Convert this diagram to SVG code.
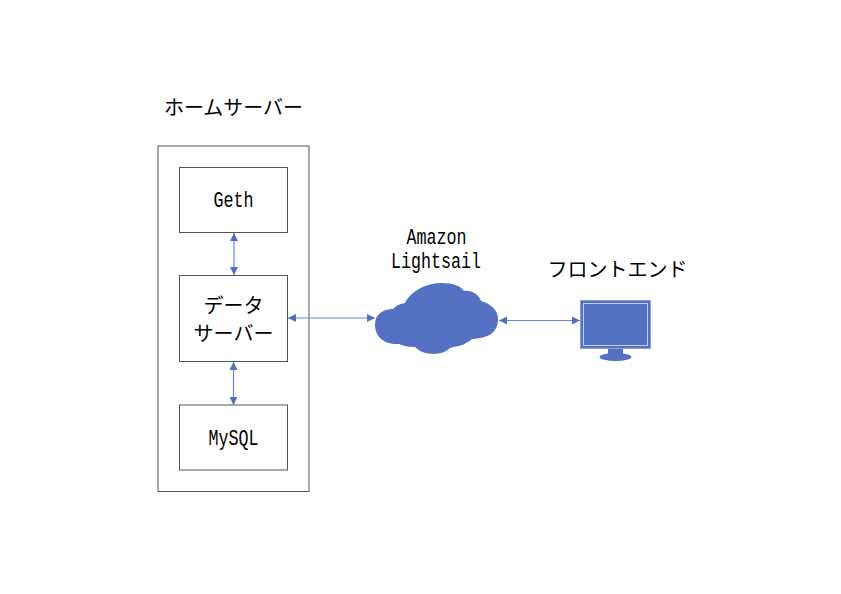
<svg xmlns="http://www.w3.org/2000/svg" width="841" height="594" viewBox="0 0 841 594">
<style>
.box{fill:#fff;stroke:#555;stroke-width:1}
.conn{stroke:#6d86cc;stroke-width:1.200;fill:none;marker-start:url(#a);marker-end:url(#a)}
.jp{font-family:"Noto Sans CJK JP","Noto Sans CJK SC",sans-serif;font-size:20px;fill:#000;text-anchor:middle}
.en{font-family:"Liberation Mono",monospace;font-size:22px;fill:#000;text-anchor:middle}
.blue{fill:#5470c2}
</style>
<defs>
<marker id="a" viewBox="0 0 10 10" refX="10" refY="5" markerWidth="11" markerHeight="8" markerUnits="userSpaceOnUse" orient="auto-start-reverse"><path d="M0 0L10 5L0 10Z" fill="#4f6fc0"/></marker>
</defs>
<rect width="841" height="594" fill="#fff"/>
<g id="home-server">
<rect class="box" x="158" y="146" width="151" height="345.500"/>
<text class="jp" x="233.500" y="115">ホームサーバー</text>
</g>
<g id="geth">
<rect class="box" x="179.500" y="167.500" width="108" height="65"/>
<text class="en" x="233.500" y="207" textLength="40" lengthAdjust="spacingAndGlyphs">Geth</text>
</g>
<g id="data-server">
<rect class="box" x="179.500" y="275.500" width="108" height="86"/>
<text class="jp" x="233.500" y="313">データ</text>
<text class="jp" x="233.500" y="341">サーバー</text>
</g>
<g id="mysql">
<rect class="box" x="179.500" y="405" width="108" height="65"/>
<text class="en" x="233.500" y="445" textLength="50" lengthAdjust="spacingAndGlyphs">MySQL</text>
</g>
<g id="lightsail">
<path class="blue" d="M375 325C375 314 383 309 393 309C397 305 400 304 405 303C411 291 426 283 442 283C453 283 461 286 464 291C472 290 479 295 481 301C491 304 498 310 498 319C498 331 491 338 472 339C470 341 468 342 466 343C460 347 455 346 450 348C443 356 423 356 415 347C408 347 403 346 399 344C385 345 375 337 375 325Z"/>
<text class="en" x="436.500" y="244" textLength="60" lengthAdjust="spacingAndGlyphs">Amazon</text>
<text class="en" x="436" y="268" textLength="90" lengthAdjust="spacingAndGlyphs">Lightsail</text>
</g>
<g id="frontend">
<text class="jp" x="617.500" y="277">フロントエンド</text>
<rect x="580.500" y="300.500" width="70" height="48" fill="#5470c2" stroke="#8c9fd8" stroke-width="1"/>
<rect x="583.500" y="303.500" width="64" height="42" fill="#5470c2" stroke="#c4cfee" stroke-width="1"/>
<path class="blue" d="M608 349H623V355H608Z"/>
<ellipse class="blue" cx="615.500" cy="357" rx="16" ry="4"/>
</g>
<g id="connectors">
<path class="conn" d="M234 233V275"/>
<path class="conn" d="M233.500 362V405"/>
<path class="conn" d="M288 318H375"/>
<path class="conn" d="M499 320.500H580"/>
</g>
</svg>
